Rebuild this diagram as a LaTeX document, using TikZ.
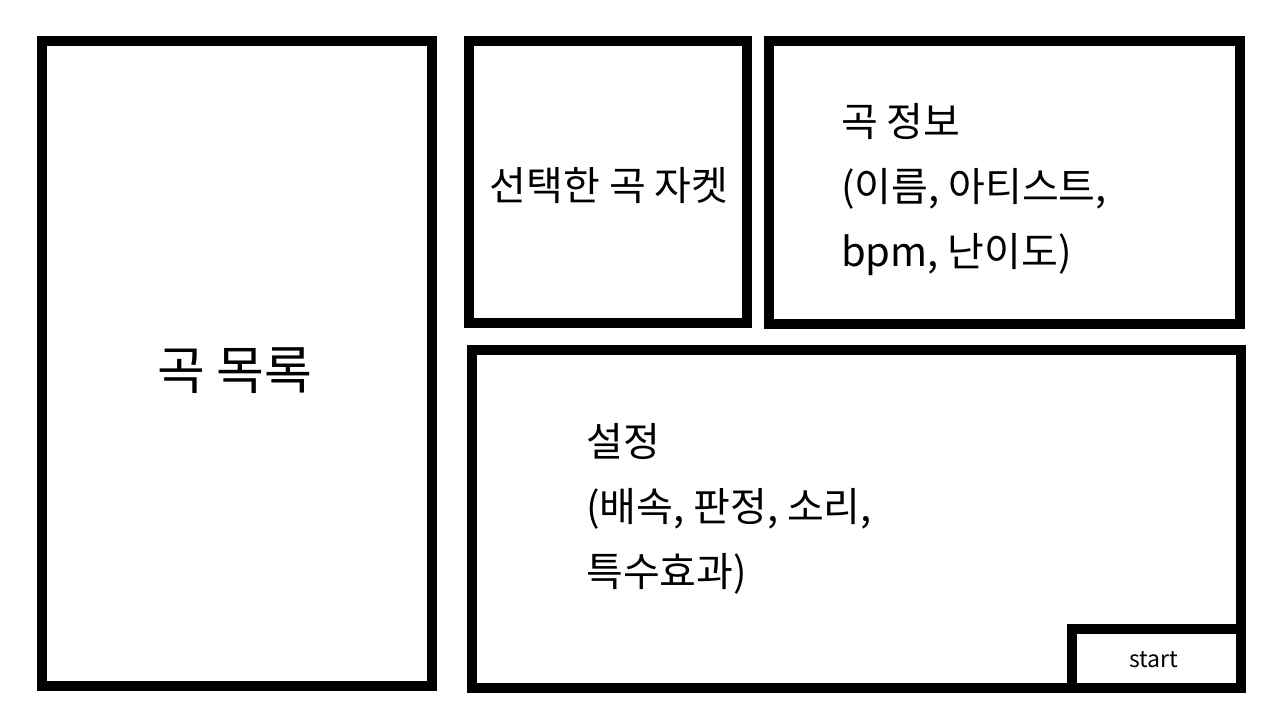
\documentclass[tikz,border=0pt]{standalone}
\usepackage{fontspec}
\setmainfont{Noto Sans CJK KR}

\begin{document}
\begin{tikzpicture}[x=1pt,y=-1pt]
\newcommand{\mybigfont}[1]{
\fontsize{52}{60}\selectfont{#1}
}\newcommand{\mytextfont}[1]{
\fontsize{40}{48}\selectfont{#1}
}\newcommand{\mysmallfont}[1]{
\fontsize{23}{28}\selectfont{#1}
}%Page
\useasboundingbox (0,0) rectangle (1280,720);
\tikzset{panel/.style={draw,line width=10pt}}
%Song list on the left
\draw [panel] (42,41) rectangle (432,686);
\coordinate (listcenter) at (235,371);
\node (list) [] at (listcenter) {\mybigfont{곡 목록}};
%Jacket of the selected song
\draw [panel] (469,41) rectangle (747,323);
\coordinate (jacketcenter) at (609,186);
\node (jacket) [] at (jacketcenter) {\mytextfont{선택한 곡 자켓}};
%Song info
\draw [panel] (769,41) rectangle (1240,324);
\coordinate (info0) at (841,136);
\coordinate (info1) at (841,201);
\coordinate (info2) at (841,266);
\node (infoA) [anchor=base west,inner sep=0pt] at (info0) {\mytextfont{곡 정보}};
\node (infoB) [anchor=base west,inner sep=0pt] at (info1) {\mytextfont{(이름, 아티스트,}};
\node (infoC) [anchor=base west,inner sep=0pt] at (info2) {\mytextfont{bpm, 난이도)}};
%Settings
\draw [panel] (472,350) rectangle (1241,688);
\coordinate (set0) at (586,456);
\coordinate (set1) at (586,521);
\coordinate (set2) at (586,586);
\node (setA) [anchor=base west,inner sep=0pt] at (set0) {\mytextfont{설정}};
\node (setB) [anchor=base west,inner sep=0pt] at (set1) {\mytextfont{(배속, 판정, 소리,}};
\node (setC) [anchor=base west,inner sep=0pt] at (set2) {\mytextfont{특수효과)}};
%Start button
\draw [panel] (1072,629) rectangle (1241,688);
\coordinate (startcenter) at (1154,660);
\node (start) [] at (startcenter) {\mysmallfont{start}};
\end{tikzpicture}
\end{document}
